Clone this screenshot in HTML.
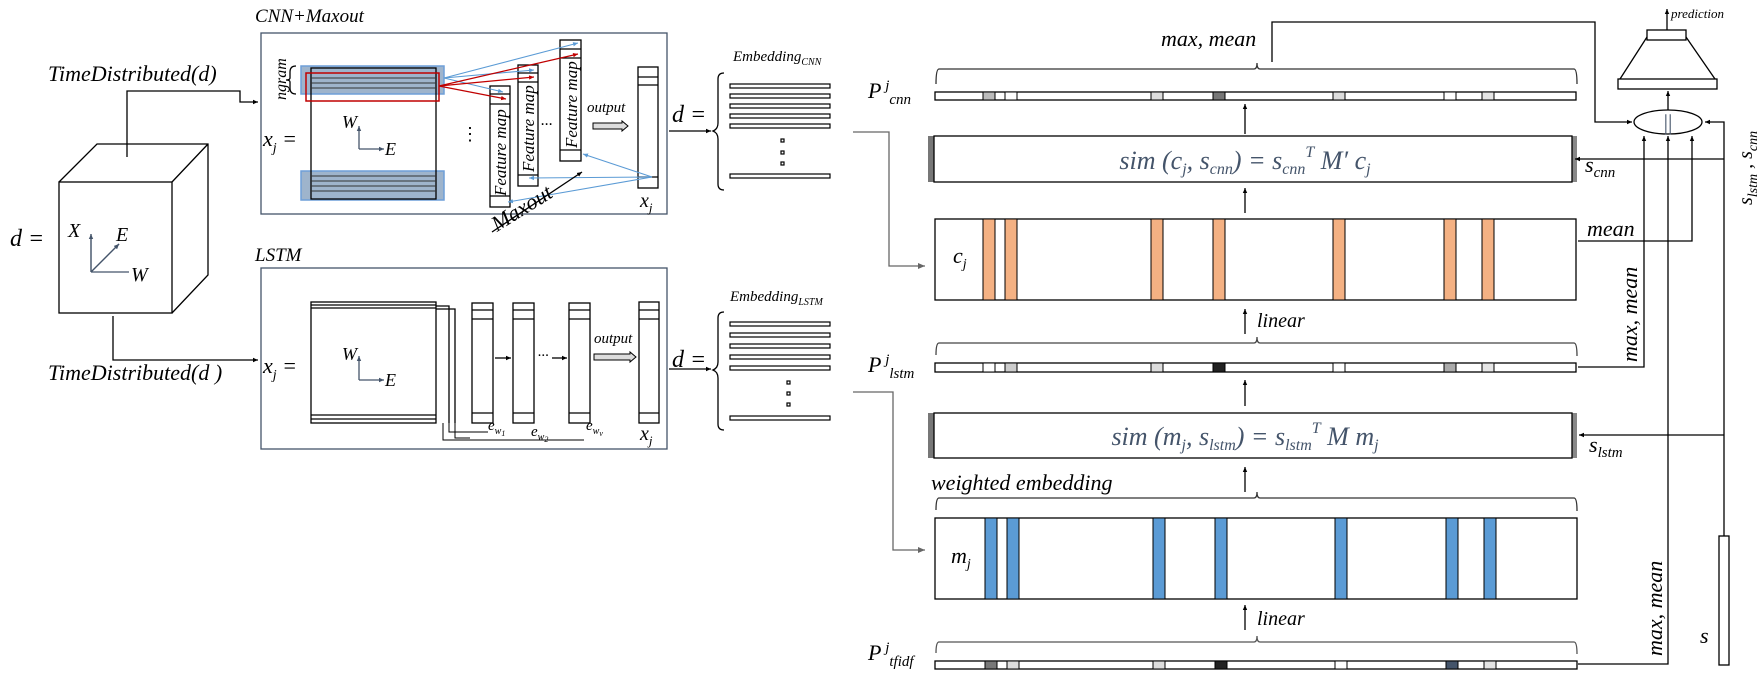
<!DOCTYPE html>
<html><head><meta charset="utf-8"><style>
html,body{margin:0;padding:0;background:#fff;}
svg{display:block;font-family:"Liberation Serif",serif;font-style:italic;}
</style></head><body>
<svg width="1759" height="684" viewBox="0 0 1759 684" xmlns="http://www.w3.org/2000/svg">
<defs>
<marker id="a" markerWidth="6" markerHeight="6" refX="5" refY="3" orient="auto" markerUnits="userSpaceOnUse"><path d="M0,0.8 L5,3 L0,5.2z" fill="#000"/></marker>
<marker id="ag" markerWidth="8" markerHeight="8" refX="7" refY="4" orient="auto" markerUnits="userSpaceOnUse"><path d="M0,1 L7,4 L0,7z" fill="#666"/></marker>
<marker id="ab" markerWidth="6" markerHeight="6" refX="5" refY="3" orient="auto" markerUnits="userSpaceOnUse"><path d="M0,0.8 L5,3 L0,5.2z" fill="#5b9bd5"/></marker>
<marker id="ar" markerWidth="6" markerHeight="6" refX="5" refY="3" orient="auto" markerUnits="userSpaceOnUse"><path d="M0,0.8 L5,3 L0,5.2z" fill="#c00000"/></marker>
<marker id="an" markerWidth="6" markerHeight="6" refX="5" refY="3" orient="auto" markerUnits="userSpaceOnUse"><path d="M0,0.8 L5,3 L0,5.2z" fill="#44546a"/></marker>
</defs>
<g fill="none" stroke="#000" stroke-width="1.3">
<!-- cube -->
<text x="10" y="246" font-size="24" fill="#000" stroke="none">d =</text>
<rect x="59" y="182" width="113" height="131" fill="#fff"/>
<path d="M59,182 L97,144 L208,144 L208,275 L172,313 M172,182 L208,144"/>
<path d="M91,272 V234 M91,272 H129 M91,272 L119,244" stroke="#44546a" stroke-width="1.2" marker-end="url(#an)"/>
<path d="M91,272 V234" stroke="#44546a" marker-end="url(#an)"/>
<path d="M91,272 L119,244" stroke="#44546a" marker-end="url(#an)"/>
<text x="68" y="237" font-size="20" fill="#000" stroke="none">X</text>
<text x="116" y="241" font-size="20" fill="#000" stroke="none">E</text>
<text x="131" y="281" font-size="20" fill="#000" stroke="none">W</text>
<text x="48" y="81" font-size="22" fill="#000" stroke="none">TimeDistributed(d)</text>
<text x="48" y="380" font-size="22" fill="#000" stroke="none">TimeDistributed(d )</text>
<path d="M127,157 V91 H240 V102 H258" marker-end="url(#a)"/>
<path d="M113,316 V360 H258" marker-end="url(#a)"/>

<!-- CNN box -->
<text x="255" y="22" font-size="19" fill="#000" stroke="none">CNN+Maxout</text>
<rect x="261" y="33" width="406" height="181" stroke="#44546a"/>
<text x="263" y="146" font-size="22" fill="#000" stroke="none">x<tspan font-size="14" dy="6">j</tspan><tspan dy="-6"> =</tspan></text>
<rect x="301" y="66" width="143" height="28" fill="#9eb4cc" stroke="#6f9fd8" stroke-width="1.5"/>
<rect x="301" y="171" width="143" height="29" fill="#9eb4cc" stroke="#6f9fd8" stroke-width="1.5"/>
<rect x="311" y="68" width="125" height="131"/>
<path d="M311,73 H436 M311,78 H436 M311,83 H436 M311,88 H436 M311,176 H436 M311,181 H436 M311,186 H436 M311,191 H436" stroke="#333" stroke-width="1"/>
<rect x="306" y="73" width="133" height="28" stroke="#c00000" stroke-width="1.5"/>
<path d="M296,66 q-6,0 -6,6 v6 q0,2 -4,2 q4,0 4,2 v6 q0,6 6,6"/>
<text transform="translate(286,100) rotate(-90)" font-size="16" fill="#000" stroke="none">ngram</text>
<path d="M359,149 V126" stroke="#44546a" marker-end="url(#an)"/>
<path d="M359,149 H384" stroke="#44546a" marker-end="url(#an)"/>
<text x="342" y="128" font-size="18" fill="#000" stroke="none">W</text>
<text x="385" y="155" font-size="18" fill="#000" stroke="none">E</text>
<text x="461" y="140" font-size="18" fill="#000" stroke="none" font-style="normal">⋮</text>
<!-- feature maps -->
<rect x="490" y="86" width="20" height="121" fill="#fff"/><path d="M490,94 H510 M490,104 H510 M490,196 H510"/>
<rect x="518" y="65" width="20" height="121" fill="#fff"/><path d="M518,73 H538 M518,82 H538 M518,175 H538"/>
<rect x="560" y="40" width="21" height="121" fill="#fff"/><path d="M560,49 H581 M560,58 H581 M560,150 H581"/>
<text transform="translate(506,196) rotate(-90)" font-size="17" fill="#000" stroke="none">Feature map</text>
<text transform="translate(534,172) rotate(-90)" font-size="17" fill="#000" stroke="none">Feature map</text>
<text transform="translate(577,148) rotate(-90)" font-size="17" fill="#000" stroke="none">Feature map</text>
<text x="541" y="125" font-size="16" fill="#000" stroke="none">...</text>
<text x="587" y="112" font-size="15" fill="#000" stroke="none">output</text>
<path d="M593,123 H622 V121 L628,126 L622,131 V129 H593z" fill="#ddd" stroke-width="1"/>
<rect x="638" y="67" width="20" height="121"/><path d="M638,77 H658 M638,85 H658 M638,177 H658"/>
<text x="640" y="207" font-size="20" fill="#000" stroke="none">x<tspan font-size="13" dy="5">j</tspan></text>
<!-- arrows from ngram -->
<g stroke="#5b9bd5" stroke-width="1.1">
<path d="M444,78 L503,92" marker-end="url(#ab)"/><path d="M444,78 L534,70" marker-end="url(#ab)"/><path d="M444,78 L578,43" marker-end="url(#ab)"/>
<path d="M652,177 L583,154" marker-end="url(#ab)"/><path d="M652,177 L529,178" marker-end="url(#ab)"/><path d="M652,177 L508,202" marker-end="url(#ab)"/>
</g>
<g stroke="#c00000" stroke-width="1.2">
<path d="M439,86 L506,99" marker-end="url(#ar)"/><path d="M439,86 L534,77" marker-end="url(#ar)"/><path d="M439,86 L578,54" marker-end="url(#ar)"/>
</g>
<path d="M492,232 L582,172" marker-end="url(#a)"/>
<text transform="translate(497,232) rotate(-32)" font-size="22" fill="#000" stroke="none">Maxout</text>
<text x="672" y="122" font-size="24" fill="#000" stroke="none">d =</text>
<path d="M669,131 H711" marker-end="url(#a)"/>
<path d="M724,73 q-6,0 -6,6 v44 q0,6 -5,8 q5,2 5,8 v45 q0,6 6,6"/>
<text x="733" y="61" font-size="15" fill="#000" stroke="none">Embedding<tspan font-size="10" dy="4">CNN</tspan></text>
<g stroke-width="1.2"><rect x="730" y="84" width="100" height="4"/><rect x="730" y="94" width="100" height="4"/><rect x="730" y="104" width="100" height="4"/><rect x="730" y="114" width="100" height="4"/><rect x="730" y="124" width="100" height="4"/><rect x="730" y="174" width="100" height="4"/>
<rect x="781" y="139" width="3" height="3"/><rect x="781" y="151" width="3" height="3"/><rect x="781" y="162" width="3" height="3"/></g>

<!-- LSTM box -->
<text x="255" y="261" font-size="19" fill="#000" stroke="none">LSTM</text>
<rect x="261" y="268" width="406" height="181" stroke="#44546a"/>
<text x="263" y="373" font-size="22" fill="#000" stroke="none">x<tspan font-size="14" dy="6">j</tspan><tspan dy="-6"> =</tspan></text>
<rect x="311" y="302" width="125" height="121"/>
<path d="M311,305 H436 M311,308 H436 M311,415 H436 M311,419 H436 M436,306 H449 V423 M436,309 H455 V423"/>
<path d="M449,423 V432 H488 M455,423 V438 H470 M443,423 V440 H584" stroke-width="1"/>
<path d="M359,380 V356" stroke="#44546a" marker-end="url(#an)"/>
<path d="M359,380 H384" stroke="#44546a" marker-end="url(#an)"/>
<text x="342" y="360" font-size="18" fill="#000" stroke="none">W</text>
<text x="385" y="386" font-size="18" fill="#000" stroke="none">E</text>
<rect x="472" y="303" width="21" height="120"/><path d="M472,310 H493 M472,319 H493 M472,413 H493"/>
<rect x="513" y="303" width="21" height="120"/><path d="M513,310 H534 M513,319 H534 M513,413 H534"/>
<rect x="569" y="303" width="21" height="120"/><path d="M569,310 H590 M569,319 H590 M569,413 H590"/>
<rect x="639" y="302" width="20" height="121"/><path d="M639,310 H659 M639,319 H659 M639,413 H659"/>
<path d="M495,358 H511" marker-end="url(#a)"/><path d="M552,358 H567" marker-end="url(#a)"/>
<text x="538" y="356" font-size="15" fill="#000" stroke="none">...</text>
<text x="594" y="343" font-size="15" fill="#000" stroke="none">output</text>
<path d="M594,354 H630 V352 L636,357 L630,362 V360 H594z" fill="#ddd" stroke-width="1"/>
<text x="488" y="430" font-size="15" fill="#000" stroke="none">e<tspan font-size="10" dy="4">w<tspan font-size="8" dy="2">1</tspan></tspan></text>
<text x="531" y="436" font-size="15" fill="#000" stroke="none">e<tspan font-size="10" dy="4">w<tspan font-size="8" dy="2">2</tspan></tspan></text>
<text x="586" y="430" font-size="15" fill="#000" stroke="none">e<tspan font-size="10" dy="4">w<tspan font-size="8" dy="2">v</tspan></tspan></text>
<text x="640" y="440" font-size="20" fill="#000" stroke="none">x<tspan font-size="13" dy="5">j</tspan></text>
<text x="672" y="367" font-size="24" fill="#000" stroke="none">d =</text>
<path d="M669,369 H711" marker-end="url(#a)"/>
<path d="M724,312 q-6,0 -6,6 v44 q0,6 -5,8 q5,2 5,8 v46 q0,6 6,6"/>
<text x="730" y="301" font-size="15" fill="#000" stroke="none">Embedding<tspan font-size="10" dy="4">LSTM</tspan></text>
<g stroke-width="1.2"><rect x="730" y="322" width="100" height="4"/><rect x="730" y="333" width="100" height="4"/><rect x="730" y="344" width="100" height="4"/><rect x="730" y="355" width="100" height="4"/><rect x="730" y="366" width="100" height="4"/><rect x="730" y="416" width="100" height="4"/>
<rect x="787" y="381" width="3" height="3"/><rect x="787" y="392" width="3" height="3"/><rect x="787" y="403" width="3" height="3"/></g>

<!-- gray connectors -->
<path d="M853,132 H889 V266 H925" stroke="#666" marker-end="url(#ag)"/>
<path d="M853,392 H893 V550 H925" stroke="#666" marker-end="url(#ag)"/>

<!-- right column -->
<text x="868" y="98" font-size="22" fill="#000" stroke="none">P<tspan font-size="15" dy="-8"> j</tspan><tspan font-size="15" dy="14">cnn</tspan></text>
<text x="1161" y="46" font-size="22" fill="#000" stroke="none">max, mean</text>
<path d="M936,84 q0,-15 3,-15 H1254 q3,0 3,-6 q0,6 3,6 H1574 q3,0 3,15" stroke="#333"/>
<rect x="935" y="92" width="641" height="8" fill="#fff"/>
<g stroke-width="1"><rect x="983" y="92" width="12" height="8" fill="#bbb"/><rect x="1005" y="92" width="12" height="8" fill="#fff"/><rect x="1151" y="92" width="12" height="8" fill="#ddd"/><rect x="1213" y="92" width="12" height="8" fill="#777"/><rect x="1333" y="92" width="12" height="8" fill="#ddd"/><rect x="1444" y="92" width="12" height="8" fill="#fff"/><rect x="1482" y="92" width="12" height="8" fill="#e5e5e5"/></g>
<path d="M1272,62 V22 H1595 V122 H1632" marker-end="url(#a)"/>
<path d="M1245,134 V104" marker-end="url(#a)"/>
<rect x="928" y="136" width="6" height="46" fill="#777" stroke="none"/>
<rect x="1572" y="136" width="5" height="46" fill="#888" stroke="none"/>
<rect x="934" y="136" width="638" height="46" fill="#fff"/>
<text x="1245" y="169" font-size="26" fill="#44546a" stroke="none" text-anchor="middle">sim (c<tspan font-size="16" dy="5">j</tspan><tspan dy="-5">, s</tspan><tspan font-size="16" dy="5">cnn</tspan><tspan dy="-5">) = s</tspan><tspan font-size="16" dy="5">cnn</tspan><tspan font-size="16" dy="-17">T</tspan><tspan dy="12"> M′ c</tspan><tspan font-size="16" dy="5">j</tspan></text>
<text x="1585" y="172" font-size="22" fill="#000" stroke="none">s<tspan font-size="15" dy="5">cnn</tspan></text>
<path d="M1245,213 V188" marker-end="url(#a)"/>
<rect x="935" y="219" width="641" height="81" fill="#fff"/>
<g stroke-width="1" fill="#f4b183"><rect x="983" y="219" width="12" height="81"/><rect x="1005" y="219" width="12" height="81"/><rect x="1151" y="219" width="12" height="81"/><rect x="1213" y="219" width="12" height="81"/><rect x="1333" y="219" width="12" height="81"/><rect x="1444" y="219" width="12" height="81"/><rect x="1482" y="219" width="12" height="81"/></g>
<text x="953" y="263" font-size="22" fill="#000" stroke="none">c<tspan font-size="14" dy="5">j</tspan></text>
<text x="1587" y="236" font-size="22" fill="#000" stroke="none">mean</text>
<path d="M1578,241 H1692 V136" marker-end="url(#a)"/>
<path d="M1245,334 V309" marker-end="url(#a)"/>
<text x="1257" y="327" font-size="20" fill="#000" stroke="none">linear</text>
<text x="868" y="372" font-size="22" fill="#000" stroke="none">P<tspan font-size="15" dy="-8"> j</tspan><tspan font-size="15" dy="14">lstm</tspan></text>
<path d="M936,355 q0,-12 3,-12 H1254 q3,0 3,-6 q0,6 3,6 H1574 q3,0 3,13" stroke="#444"/>
<rect x="935" y="363" width="641" height="9" fill="#fff"/>
<g stroke-width="1"><rect x="983" y="363" width="12" height="9" fill="#fff"/><rect x="1005" y="363" width="12" height="9" fill="#ccc"/><rect x="1151" y="363" width="12" height="9" fill="#ddd"/><rect x="1213" y="363" width="12" height="9" fill="#222"/><rect x="1333" y="363" width="12" height="9" fill="#fff"/><rect x="1444" y="363" width="12" height="9" fill="#aaa"/><rect x="1482" y="363" width="12" height="9" fill="#e5e5e5"/></g>
<path d="M1578,367 H1644 V136" marker-end="url(#a)"/>
<text transform="translate(1637,362) rotate(-90)" font-size="22" fill="#000" stroke="none">max, mean</text>
<path d="M1245,406 V380" marker-end="url(#a)"/>
<rect x="928" y="413" width="6" height="45" fill="#777" stroke="none"/>
<rect x="1572" y="413" width="5" height="45" fill="#888" stroke="none"/>
<rect x="934" y="413" width="638" height="45" fill="#fff"/>
<text x="1245" y="445" font-size="26" fill="#44546a" stroke="none" text-anchor="middle">sim (m<tspan font-size="16" dy="5">j</tspan><tspan dy="-5">, s</tspan><tspan font-size="16" dy="5">lstm</tspan><tspan dy="-5">) = s</tspan><tspan font-size="16" dy="5">lstm</tspan><tspan font-size="16" dy="-17">T</tspan><tspan dy="12"> M m</tspan><tspan font-size="16" dy="5">j</tspan></text>
<text x="1589" y="452" font-size="22" fill="#000" stroke="none">s<tspan font-size="15" dy="5">lstm</tspan></text>
<path d="M1724,435 H1579" marker-end="url(#a)"/>
<path d="M1724,159 H1575" marker-end="url(#a)"/>
<path d="M1724,536 V122 H1705" marker-end="url(#a)"/>
<text transform="translate(1752,205) rotate(-90)" font-size="20" fill="#000" stroke="none">s<tspan font-size="14" dy="5">lstm</tspan><tspan dy="-5"> , s</tspan><tspan font-size="14" dy="5">cnn</tspan></text>
<path d="M1245,492 V467" marker-end="url(#a)"/>
<text x="931" y="490" font-size="22" fill="#000" stroke="none">weighted embedding</text>
<path d="M936,510 q0,-12 3,-12 H1254 q3,0 3,-6 q0,6 3,6 H1574 q3,0 3,13" stroke="#333"/>
<rect x="935" y="518" width="642" height="81" fill="#fff"/>
<g stroke-width="1" fill="#5b9bd5"><rect x="985" y="518" width="12" height="81"/><rect x="1007" y="518" width="12" height="81"/><rect x="1153" y="518" width="12" height="81"/><rect x="1215" y="518" width="12" height="81"/><rect x="1335" y="518" width="12" height="81"/><rect x="1446" y="518" width="12" height="81"/><rect x="1484" y="518" width="12" height="81"/></g>
<text x="951" y="563" font-size="22" fill="#000" stroke="none">m<tspan font-size="14" dy="5">j</tspan></text>
<path d="M1245,630 V605" marker-end="url(#a)"/>
<text x="1257" y="625" font-size="20" fill="#000" stroke="none">linear</text>
<text x="868" y="660" font-size="22" fill="#000" stroke="none">P<tspan font-size="15" dy="-8"> j</tspan><tspan font-size="15" dy="14">tfidf</tspan></text>
<path d="M936,653 q0,-11 3,-11 H1254 q3,0 3,-6 q0,6 3,6 H1574 q3,0 3,12" stroke="#555"/>
<rect x="935" y="661" width="642" height="8" fill="#fff"/>
<g stroke-width="1"><rect x="985" y="661" width="12" height="8" fill="#777"/><rect x="1007" y="661" width="12" height="8" fill="#ddd"/><rect x="1153" y="661" width="12" height="8" fill="#ddd"/><rect x="1215" y="661" width="12" height="8" fill="#222"/><rect x="1335" y="661" width="12" height="8" fill="#fff"/><rect x="1446" y="661" width="12" height="8" fill="#44546a"/><rect x="1484" y="661" width="12" height="8" fill="#e5e5e5"/></g>
<path d="M1578,664 H1668 V136" marker-end="url(#a)"/>
<text transform="translate(1662,656) rotate(-90)" font-size="22" fill="#000" stroke="none">max, mean</text>
<rect x="1719" y="536" width="10" height="129" fill="#fff"/>
<text x="1700" y="643" font-size="22" fill="#000" stroke="none">s</text>
<!-- ellipse & prediction -->
<ellipse cx="1668" cy="122" rx="34" ry="12" fill="#fff"/>
<text x="1668" y="130" font-size="22" fill="#44546a" stroke="none" text-anchor="middle" font-style="normal">||</text>
<path d="M1668,110 V91" marker-end="url(#a)"/>
<rect x="1618" y="79" width="99" height="10" fill="#fff"/>
<path d="M1647,37 L1620,79 M1686,37 L1715,79"/>
<rect x="1647" y="30" width="39" height="10" fill="#fff"/>
<path d="M1667,30 V9" marker-end="url(#a)"/>
<text x="1671" y="18" font-size="13" fill="#000" stroke="none">prediction</text>
</g>
</svg>
</body></html>
